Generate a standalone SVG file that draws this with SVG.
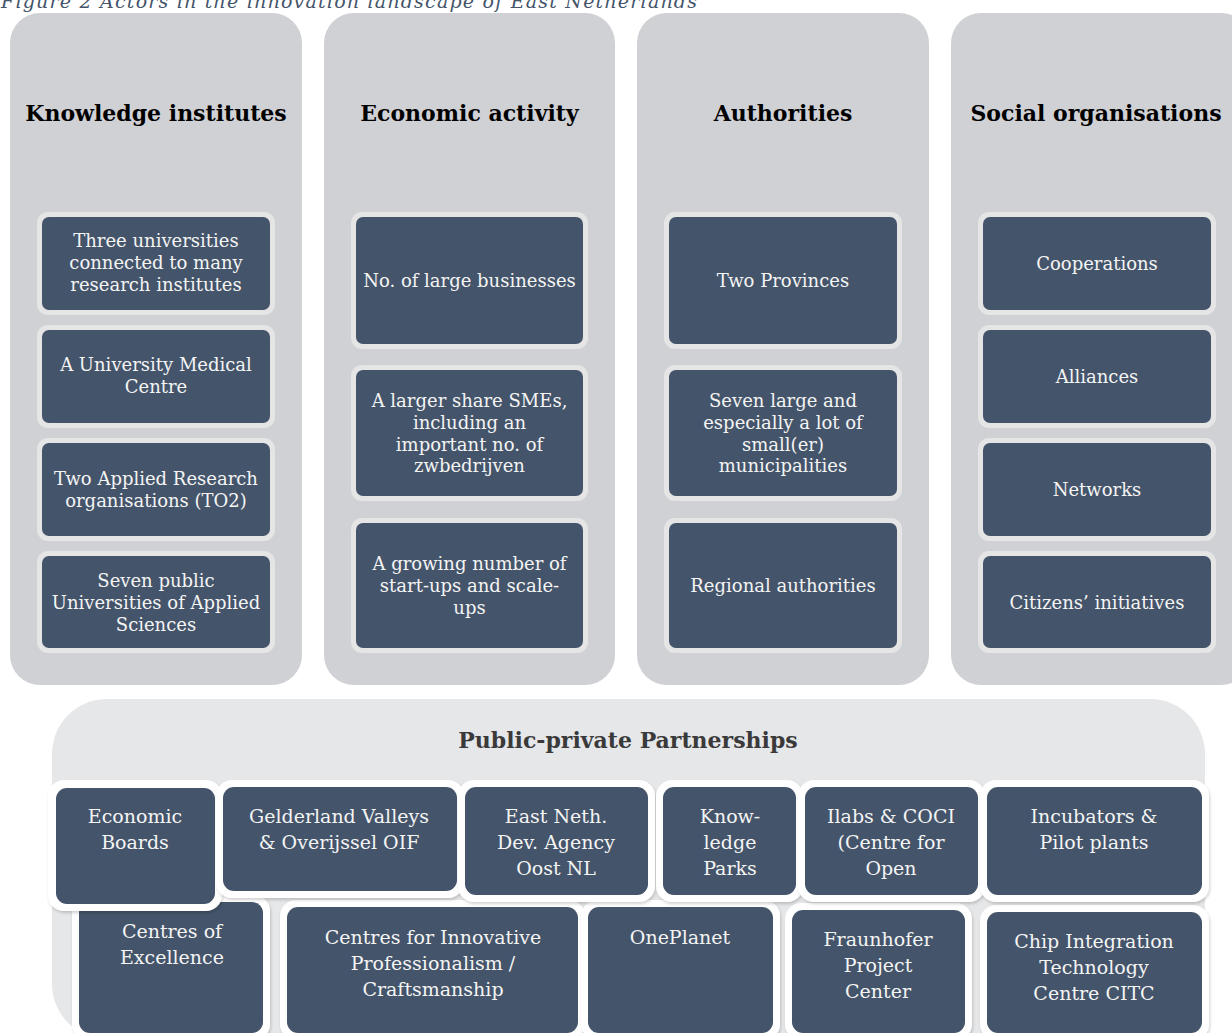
<svg xmlns="http://www.w3.org/2000/svg" width="1232" height="1033" viewBox="0 0 1232 1033">
<style>
.col{fill:#d0d1d5}
.hd{font-family:"DejaVu Serif","Liberation Serif",serif;font-weight:bold;font-size:22px;fill:#000;text-anchor:middle}
.bo{fill:#e5e5e6}
.bi{fill:#44546a}
.bt{font-family:"DejaVu Serif","Liberation Serif",serif;font-size:18px;fill:#f4f4f4;text-anchor:middle}
.pt{font-family:"DejaVu Serif","Liberation Serif",serif;font-size:19px;fill:#f4f4f4;text-anchor:middle}
.pw{fill:#ffffff;filter:url(#sh)}
.ttl{font-family:"DejaVu Serif","Liberation Serif",serif;font-style:italic;font-size:19px;fill:#44546a}
</style>
<defs>
<filter id="sh" x="-10%" y="-10%" width="120%" height="120%">
<feDropShadow dx="1" dy="2" stdDeviation="1.5" flood-color="#000" flood-opacity="0.18"/>
</filter>
</defs>
<rect width="1232" height="1033" fill="#ffffff"/>
<text class="ttl" x="1" y="8" textLength="696">Figure 2 Actors in the innovation landscape of East Netherlands</text>

<g id="col-knowledge">
<rect class="col" x="10" y="13" width="292" height="672" rx="30"/>
<text class="hd" x="156" y="121">Knowledge institutes</text>
<g id="k1"><rect class="bo" x="37" y="212" width="238" height="103" rx="11"/><rect class="bi" x="42" y="217" width="228" height="93" rx="7"/>
<text class="bt" x="156" y="247">Three universities</text><text class="bt" x="156" y="269">connected to many</text><text class="bt" x="156" y="291">research institutes</text></g>
<g id="k2"><rect class="bo" x="37" y="325" width="238" height="103" rx="11"/><rect class="bi" x="42" y="330" width="228" height="93" rx="7"/>
<text class="bt" x="156" y="371">A University Medical</text><text class="bt" x="156" y="393">Centre</text></g>
<g id="k3"><rect class="bo" x="37" y="438" width="238" height="103" rx="11"/><rect class="bi" x="42" y="443" width="228" height="93" rx="7"/>
<text class="bt" x="156" y="485">Two Applied Research</text><text class="bt" x="156" y="507">organisations (TO2)</text></g>
<g id="k4"><rect class="bo" x="37" y="551" width="238" height="102" rx="11"/><rect class="bi" x="42" y="556" width="228" height="92" rx="7"/>
<text class="bt" x="156" y="587">Seven public</text><text class="bt" x="156" y="609">Universities of Applied</text><text class="bt" x="156" y="631">Sciences</text></g>
</g>

<g id="col-economic">
<rect class="col" x="324" y="13" width="291" height="672" rx="30"/>
<text class="hd" x="469.5" y="121">Economic activity</text>
<g id="e1"><rect class="bo" x="351" y="212" width="237" height="137" rx="11"/><rect class="bi" x="356" y="217" width="227" height="127" rx="7"/>
<text class="bt" x="469.5" y="287">No. of large businesses</text></g>
<g id="e2"><rect class="bo" x="351" y="365" width="237" height="136" rx="11"/><rect class="bi" x="356" y="370" width="227" height="126" rx="7"/>
<text class="bt" x="469.5" y="407">A larger share SMEs,</text><text class="bt" x="469.5" y="429">including an</text><text class="bt" x="469.5" y="451">important no. of</text><text class="bt" x="469.5" y="472">zwbedrijven</text></g>
<g id="e3"><rect class="bo" x="351" y="518" width="237" height="135" rx="11"/><rect class="bi" x="356" y="523" width="227" height="125" rx="7"/>
<text class="bt" x="469.5" y="570">A growing number of</text><text class="bt" x="469.5" y="592">start-ups and scale-</text><text class="bt" x="469.5" y="614">ups</text></g>
</g>

<g id="col-authorities">
<rect class="col" x="637" y="13" width="292" height="672" rx="30"/>
<text class="hd" x="783" y="121">Authorities</text>
<g id="a1"><rect class="bo" x="664" y="212" width="238" height="137" rx="11"/><rect class="bi" x="669" y="217" width="228" height="127" rx="7"/>
<text class="bt" x="783" y="287">Two Provinces</text></g>
<g id="a2"><rect class="bo" x="664" y="365" width="238" height="136" rx="11"/><rect class="bi" x="669" y="370" width="228" height="126" rx="7"/>
<text class="bt" x="783" y="407">Seven large and</text><text class="bt" x="783" y="429">especially a lot of</text><text class="bt" x="783" y="451">small(er)</text><text class="bt" x="783" y="472">municipalities</text></g>
<g id="a3"><rect class="bo" x="664" y="518" width="238" height="135" rx="11"/><rect class="bi" x="669" y="523" width="228" height="125" rx="7"/>
<text class="bt" x="783" y="592">Regional authorities</text></g>
</g>

<g id="col-social">
<rect class="col" x="951" y="13" width="300" height="672" rx="30"/>
<text class="hd" x="1096" y="121">Social organisations</text>
<g id="s1"><rect class="bo" x="978" y="212" width="238" height="103" rx="11"/><rect class="bi" x="983" y="217" width="228" height="93" rx="7"/>
<text class="bt" x="1097" y="270">Cooperations</text></g>
<g id="s2"><rect class="bo" x="978" y="325" width="238" height="103" rx="11"/><rect class="bi" x="983" y="330" width="228" height="93" rx="7"/>
<text class="bt" x="1097" y="383">Alliances</text></g>
<g id="s3"><rect class="bo" x="978" y="438" width="238" height="103" rx="11"/><rect class="bi" x="983" y="443" width="228" height="93" rx="7"/>
<text class="bt" x="1097" y="496">Networks</text></g>
<g id="s4"><rect class="bo" x="978" y="551" width="238" height="102" rx="11"/><rect class="bi" x="983" y="556" width="228" height="92" rx="7"/>
<text class="bt" x="1097" y="609">Citizens’ initiatives</text></g>
</g>

<g id="ppp">
<rect x="52" y="699" width="1153" height="340" rx="55" fill="#e6e7e9"/>
<text class="hd" x="628" y="748" style="fill:#3a3a3a">Public-private Partnerships</text>

<g id="p-coe"><rect class="pw" x="72" y="895" width="198" height="145" rx="16"/><rect class="bi" x="79" y="902" width="184" height="131" rx="11"/>
<text class="pt" x="172" y="938">Centres of</text><text class="pt" x="172" y="964">Excellence</text></g>
<g id="p-cip"><rect class="pw" x="280" y="900" width="305" height="140" rx="16"/><rect class="bi" x="287" y="907" width="291" height="126" rx="11"/>
<text class="pt" x="433" y="944">Centres for Innovative</text><text class="pt" x="433" y="970">Professionalism /</text><text class="pt" x="433" y="996">Craftsmanship</text></g>
<g id="p-op"><rect class="pw" x="581" y="900" width="199" height="140" rx="16"/><rect class="bi" x="588" y="907" width="185" height="126" rx="11"/>
<text class="pt" x="680" y="944">OnePlanet</text></g>
<g id="p-fr"><rect class="pw" x="785" y="903" width="187" height="137" rx="16"/><rect class="bi" x="792" y="910" width="173" height="123" rx="11"/>
<text class="pt" x="878" y="946">Fraunhofer</text><text class="pt" x="878" y="972">Project</text><text class="pt" x="878" y="998">Center</text></g>
<g id="p-citc"><rect class="pw" x="980" y="905" width="229" height="135" rx="16"/><rect class="bi" x="987" y="912" width="215" height="121" rx="11"/>
<text class="pt" x="1094" y="948">Chip Integration</text><text class="pt" x="1094" y="974">Technology</text><text class="pt" x="1094" y="1000">Centre CITC</text></g>

<g id="p-eb"><rect class="pw" x="48" y="780" width="174" height="131" rx="16"/><rect class="bi" x="56" y="788" width="159" height="116" rx="11"/>
<text class="pt" x="135" y="823">Economic</text><text class="pt" x="135" y="849">Boards</text></g>
<g id="p-gv"><rect class="pw" x="216" y="780" width="248" height="118" rx="16"/><rect class="bi" x="223" y="787" width="234" height="104" rx="11"/>
<text class="pt" x="339" y="823">Gelderland Valleys</text><text class="pt" x="339" y="849">&amp; Overijssel OIF</text></g>
<g id="p-en"><rect class="pw" x="458" y="780" width="197" height="122" rx="16"/><rect class="bi" x="465" y="787" width="183" height="108" rx="11"/>
<text class="pt" x="556" y="823">East  Neth.</text><text class="pt" x="556" y="849">Dev. Agency</text><text class="pt" x="556" y="875">Oost NL</text></g>
<g id="p-kp"><rect class="pw" x="656" y="780" width="147" height="122" rx="16"/><rect class="bi" x="663" y="787" width="133" height="108" rx="11"/>
<text class="pt" x="730" y="823">Know-</text><text class="pt" x="730" y="849">ledge</text><text class="pt" x="730" y="875">Parks</text></g>
<g id="p-il"><rect class="pw" x="798" y="780" width="187" height="122" rx="16"/><rect class="bi" x="805" y="787" width="173" height="108" rx="11"/>
<text class="pt" x="891" y="823">Ilabs &amp; COCI</text><text class="pt" x="891" y="849">(Centre for</text><text class="pt" x="891" y="875">Open</text></g>
<g id="p-inc"><rect class="pw" x="980" y="780" width="229" height="122" rx="16"/><rect class="bi" x="987" y="787" width="215" height="108" rx="11"/>
<text class="pt" x="1094" y="823">Incubators &amp;</text><text class="pt" x="1094" y="849">Pilot plants</text></g>
</g>
<g id="connectors"></g>
</svg>
